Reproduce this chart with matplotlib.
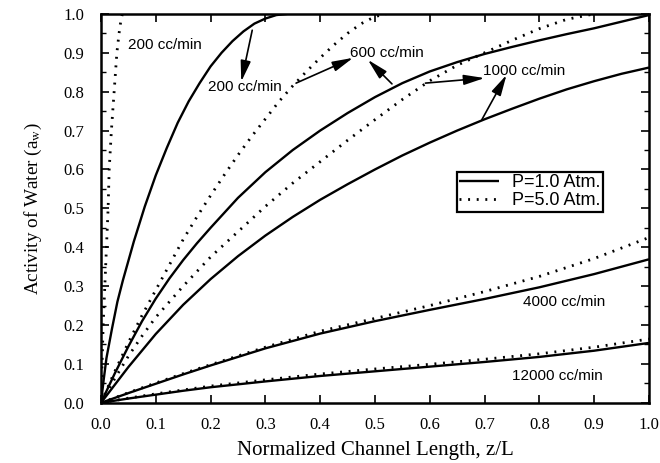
import matplotlib
matplotlib.use("Agg")
import matplotlib.pyplot as plt
from matplotlib.ticker import MultipleLocator, FormatStrFormatter

plt.rcParams['font.family'] = ['Liberation Serif', 'DejaVu Serif']
plt.rcParams['mathtext.fontset'] = 'stix'

# ---- data ----
x_s200 = [0, 0.005, 0.01, 0.02, 0.03, 0.04, 0.05, 0.06, 0.07, 0.08, 0.09, 0.10, 0.12, 0.14,
          0.16, 0.18, 0.20, 0.22, 0.24, 0.26, 0.28, 0.30, 0.32, 0.34]
y_s200 = [0, 0.06, 0.115, 0.19, 0.26, 0.315, 0.365, 0.415, 0.46, 0.505, 0.545, 0.585, 0.655, 0.72,
          0.775, 0.822, 0.865, 0.90, 0.93, 0.955, 0.975, 0.988, 0.997, 1.0]

x_d200 = [0, 0.002, 0.004, 0.007, 0.010, 0.013, 0.015, 0.019, 0.024, 0.029, 0.033, 0.036, 0.039]
y_d200 = [0, 0.1, 0.2, 0.3, 0.4, 0.5, 0.6, 0.7, 0.8, 0.9, 0.95, 0.98, 1.0]

x_s600 = [0, 0.025, 0.05, 0.075, 0.1, 0.125, 0.15, 0.175, 0.2, 0.25, 0.3, 0.35, 0.4, 0.45,
          0.5, 0.55, 0.6, 0.65, 0.7, 0.75, 0.8, 0.85, 0.9, 0.95, 1.0]
y_s600 = [0, 0.075, 0.145, 0.21, 0.268, 0.32, 0.367, 0.41, 0.45, 0.527, 0.593, 0.65, 0.70,
          0.745, 0.786, 0.822, 0.852, 0.876, 0.897, 0.915, 0.932, 0.948, 0.963, 0.98, 0.997]

x_d600 = [0, 0.025, 0.05, 0.075, 0.1, 0.125, 0.15, 0.175, 0.2, 0.225, 0.25, 0.275, 0.3, 0.325,
          0.35, 0.375, 0.4, 0.425, 0.45, 0.475, 0.5, 0.52]
y_d600 = [0, 0.08, 0.155, 0.225, 0.29, 0.355, 0.42, 0.478, 0.533, 0.586, 0.637, 0.685, 0.73, 0.775,
          0.815, 0.852, 0.887, 0.92, 0.95, 0.975, 0.993, 1.0]

x_s1000 = [0, 0.05, 0.1, 0.15, 0.2, 0.25, 0.3, 0.35, 0.4, 0.45, 0.5, 0.55, 0.6, 0.65, 0.7,
           0.75, 0.8, 0.85, 0.9, 0.95, 1.0]
y_s1000 = [0, 0.092, 0.177, 0.252, 0.318, 0.377, 0.43, 0.478, 0.522, 0.562, 0.60, 0.636, 0.669,
           0.70, 0.729, 0.756, 0.782, 0.806, 0.827, 0.846, 0.862]

x_d1000 = [0, 0.025, 0.05, 0.075, 0.1, 0.15, 0.2, 0.25, 0.3, 0.35, 0.4, 0.45, 0.5, 0.55, 0.6,
           0.65, 0.7, 0.75, 0.8, 0.85, 0.9]
y_d1000 = [0, 0.062, 0.12, 0.172, 0.22, 0.30, 0.375, 0.44, 0.505, 0.565, 0.62, 0.675, 0.728, 0.78,
           0.828, 0.868, 0.90, 0.932, 0.962, 0.986, 1.0]

x_s4000 = [0, 0.05, 0.1, 0.15, 0.2, 0.3, 0.4, 0.5, 0.6, 0.7, 0.8, 0.9, 1.0]
y_s4000 = [0, 0.025, 0.049, 0.073, 0.096, 0.14, 0.178, 0.21, 0.239, 0.267, 0.297, 0.331, 0.369]

x_d4000 = [0, 0.05, 0.1, 0.15, 0.2, 0.3, 0.4, 0.5, 0.6, 0.7, 0.8, 0.9, 1.0]
y_d4000 = [0, 0.026, 0.051, 0.075, 0.098, 0.143, 0.184, 0.217, 0.25, 0.286, 0.325, 0.371, 0.425]

x_s12000 = [0, 0.05, 0.1, 0.15, 0.2, 0.3, 0.4, 0.5, 0.6, 0.7, 0.8, 0.9, 1.0]
y_s12000 = [0, 0.011, 0.021, 0.031, 0.04, 0.055, 0.069, 0.081, 0.093, 0.105, 0.118, 0.134, 0.154]

x_d12000 = [0, 0.05, 0.1, 0.15, 0.2, 0.3, 0.4, 0.5, 0.6, 0.7, 0.8, 0.9, 1.0]
y_d12000 = [0, 0.012, 0.023, 0.033, 0.043, 0.059, 0.074, 0.087, 0.099, 0.112, 0.126, 0.143, 0.164]

legend_labels = ['P=1.0 Atm.', 'P=5.0 Atm.']

fig = plt.figure(figsize=(6.6, 4.63), dpi=100)
ax = fig.add_axes([0.153, 0.13, 0.8303, 0.84])

lw = 1.7
dot = (0, (0.7, 2.4))
ls_s = dict(color='black', lw=lw, solid_capstyle='butt', solid_joinstyle='round')
ls_d = dict(color='black', lw=2.0, linestyle=dot)

l1, = ax.plot(x_s200, y_s200, **ls_s)
l2, = ax.plot(x_d200, y_d200, **ls_d)
ax.plot(x_s600, y_s600, **ls_s)
ax.plot(x_d600, y_d600, **ls_d)
ax.plot(x_s1000, y_s1000, **ls_s)
ax.plot(x_d1000, y_d1000, **ls_d)
ax.plot(x_s4000, y_s4000, **ls_s)
ax.plot(x_d4000, y_d4000, **ls_d)
ax.plot(x_s12000, y_s12000, **ls_s)
ax.plot(x_d12000, y_d12000, **ls_d)

ax.set_xlim(0, 1.0)
ax.set_ylim(0, 1.0)
ax.xaxis.set_major_locator(MultipleLocator(0.1))
ax.yaxis.set_major_locator(MultipleLocator(0.1))
ax.yaxis.set_minor_locator(MultipleLocator(0.05))
ax.xaxis.set_major_formatter(FormatStrFormatter('%.1f'))
ax.yaxis.set_major_formatter(FormatStrFormatter('%.1f'))
ax.tick_params(which='major', direction='in', top=True, right=True, length=6, width=1.2,
               labelsize=12)
ax.tick_params(axis='x', which='major', pad=10)
ax.tick_params(axis='y', which='major', pad=12)
ax.tick_params(which='minor', direction='in', left=True, right=True, length=3.5, width=1.0)
for s in ax.spines.values():
    s.set_linewidth(1.8)

ax.set_xlabel('Normalized Channel Length, z/L', fontsize=15, labelpad=6)
ax.set_ylabel('Activity of Water (a$_\\mathrm{w}$)', fontsize=13.8, labelpad=14)

sans = ['Liberation Sans', 'DejaVu Sans']
tk = dict(fontsize=11, family=sans, va='center')
ax.text(0.049, 0.92, '200 cc/min', **tk)
ax.text(0.195, 0.813, '200 cc/min', **tk)
ax.text(0.455, 0.899, '600 cc/min', **tk)
ax.text(0.697, 0.852, '1000 cc/min', **tk)
ax.text(0.771, 0.26, '4000 cc/min', **tk)
ax.text(0.75, 0.068, '12000 cc/min', **tk)

ap = dict(arrowstyle='-|>,head_length=0.9,head_width=0.22', color='black', lw=1.2,
          shrinkA=0, shrinkB=0, mutation_scale=14)
ax.annotate('', xy=(0.256, 0.826), xytext=(0.276, 0.958), arrowprops=ap)
ax.annotate('', xy=(0.46, 0.887), xytext=(0.356, 0.822), arrowprops=ap)
ax.annotate('', xy=(0.487, 0.882), xytext=(0.531, 0.82), arrowprops=ap)
ax.annotate('', xy=(0.70, 0.835), xytext=(0.592, 0.822), arrowprops=ap)
ax.annotate('', xy=(0.74, 0.843), xytext=(0.695, 0.728), arrowprops=ap)

leg = ax.legend([l1, l2], legend_labels, loc='upper left', bbox_to_anchor=(0.649, 0.594),
                frameon=True, fancybox=False, edgecolor='black', borderpad=0.15,
                handlelength=2.2, handletextpad=0.72, labelspacing=0.05,
                prop={'family': sans, 'size': 13}, borderaxespad=0)
leg.get_frame().set_linewidth(1.6)
leg.get_frame().set_alpha(1)

fig.savefig('out.png', dpi=100)
